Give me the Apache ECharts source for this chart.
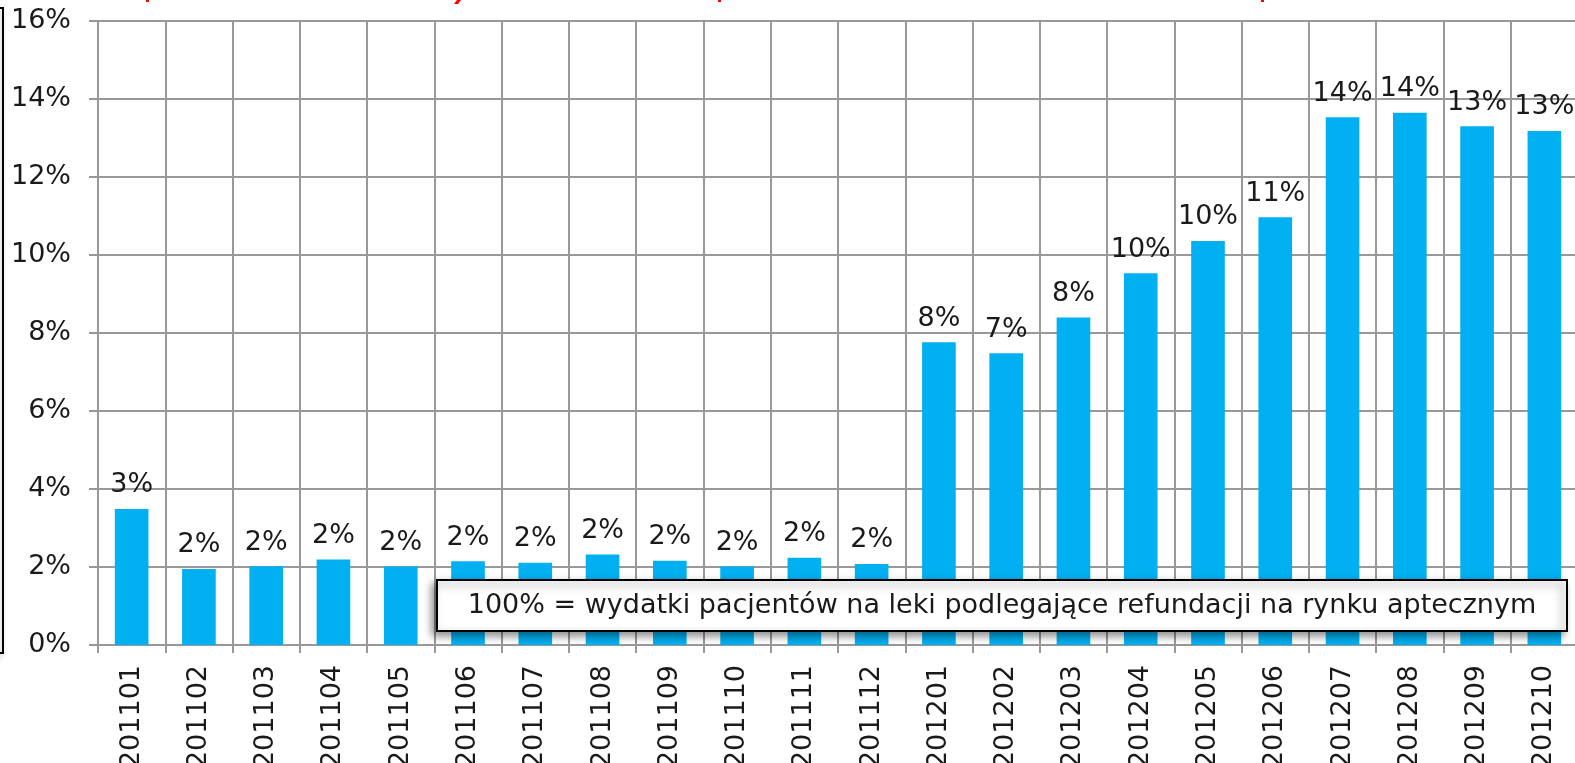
<!DOCTYPE html>
<html>
<head>
<meta charset="utf-8">
<script src="https://cdn.jsdelivr.net/npm/echarts@6/dist/echarts.min.js"></script>
<style>
  html, body { margin: 0; padding: 0; background: #fff; }
  #chart { width: 1575px; height: 763px; }
</style>
</head>
<body>
<div id="chart"></div>
<script>
// miesiące (RRRRMM)
const months = [
  '201101', '201102', '201103', '201104', '201105', '201106',
  '201107', '201108', '201109', '201110', '201111', '201112',
  '201201', '201202', '201203', '201204', '201205', '201206',
  '201207', '201208', '201209', '201210'
];
// udział w %
const shares = [
  3.49, 1.95, 2.02, 2.19, 2.01, 2.15,
  2.11, 2.32, 2.16, 2.01, 2.24, 2.08,
  7.76, 7.48, 8.40, 9.53, 10.36, 10.97,
  13.53, 13.65, 13.30, 13.18
];
const yTicks = [0, 2, 4, 6, 8, 10, 12, 14, 16];
const note = '100% = wydatki pacjentów na leki podlegające refundacji na rynku aptecznym';

const font = 'DejaVu Sans';
const textColor = '#1a1a1a';
const gridColor = '#999';

const chart = echarts.init(document.getElementById('chart'));

const option = {
  backgroundColor: '#fff',
  animation: false,
  grid: {
    left: 98,
    right: -3,
    top: 21,
    bottom: 118,
    containLabel: false,
    outerBoundsMode: 'none'
  },
  xAxis: {
    type: 'category',
    data: months,
    boundaryGap: true,
    axisLine: { show: true, lineStyle: { color: gridColor, width: 2 } },
    axisTick: { show: true, length: 8, lineStyle: { color: gridColor, width: 2 } },
    splitLine: { show: true, lineStyle: { color: gridColor, width: 2 } },
    axisLabel: {
      rotate: 90,
      margin: 20,
      interval: 0,
      color: textColor,
      fontFamily: font,
      fontSize: 27
    }
  },
  yAxis: {
    type: 'value',
    min: yTicks[0],
    max: yTicks[yTicks.length - 1],
    interval: 2,
    axisLine: { show: true, lineStyle: { color: gridColor, width: 2 } },
    axisTick: { show: true, length: 9, lineStyle: { color: gridColor, width: 2 } },
    splitLine: { show: true, lineStyle: { color: gridColor, width: 2 } },
    axisLabel: {
      margin: 27,
      color: textColor,
      fontFamily: font,
      fontSize: 27,
      formatter: v => v + '%'
    }
  },
  series: [{
    type: 'bar',
    data: shares,
    barWidth: '50%',
    itemStyle: { color: '#00B0F0' },
    label: {
      show: true,
      position: 'top',
      distance: 10,
      color: textColor,
      fontFamily: font,
      fontSize: 27,
      formatter: p => Math.round(p.value) + '%'
    },
    z: 2
  }],
  graphic: [
    // ramka po lewej (ucięta)
    {
      type: 'rect',
      zlevel: 1,
      x: -60, y: 8,
      shape: { width: 63, height: 645 },
      style: {
        fill: 'transparent', stroke: '#000', lineWidth: 2,
        shadowBlur: 6, shadowOffsetX: -3, shadowOffsetY: 3, shadowColor: 'rgba(0,0,0,0.35)'
      }
    },
    // resztki czerwonego tytułu u góry
    { type: 'rect', zlevel: 1, x: 146, y: 0, shape: { width: 3, height: 2 }, style: { fill: '#f00' } },
    { type: 'polygon', zlevel: 1, shape: { points: [[457, 0], [461, 0], [458, 4], [454, 4]] }, style: { fill: '#f00' } },
    { type: 'rect', zlevel: 1, x: 718, y: 0, shape: { width: 3, height: 2 }, style: { fill: '#f00' } },
    { type: 'rect', zlevel: 1, x: 1261, y: 0, shape: { width: 3, height: 2 }, style: { fill: '#f00' } },
    // przypis
    {
      type: 'rect',
      zlevel: 1,
      x: 437, y: 580,
      shape: { width: 1130, height: 51 },
      style: {
        fill: '#fff', stroke: '#000', lineWidth: 2,
        shadowBlur: 8, shadowOffsetX: -4, shadowOffsetY: 4, shadowColor: 'rgba(0,0,0,0.45)'
      }
    },
    {
      type: 'text',
      zlevel: 1,
      z: 2,
      x: 1002, y: 606,
      style: {
        text: note,
        fill: textColor,
        fontFamily: font,
        fontSize: 27,
        textAlign: 'center',
        textVerticalAlign: 'middle'
      }
    }
  ]
};

chart.setOption(option);
</script>
</body>
</html>
